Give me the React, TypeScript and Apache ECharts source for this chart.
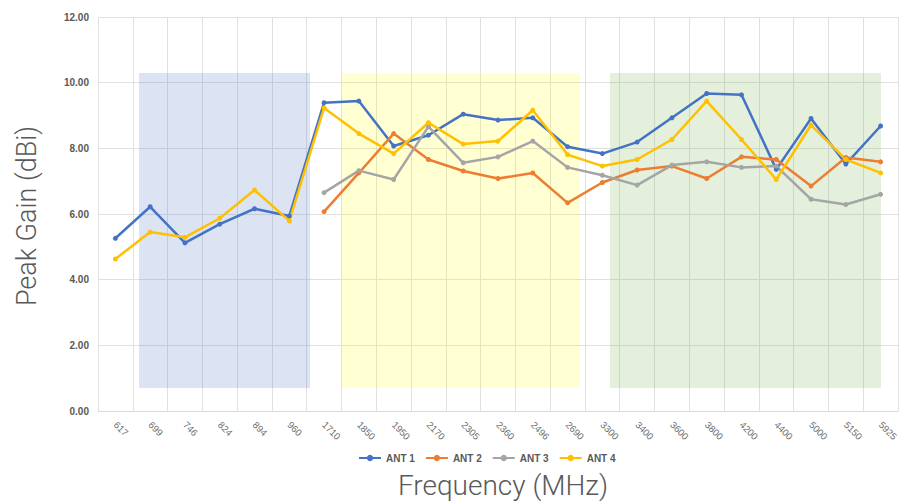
import React, { useEffect, useRef } from "react";
import * as echarts from "echarts";

const categories = ["617", "699", "746", "824", "894", "960", "1710", "1850", "1950", "2170", "2305", "2360", "2496", "2690", "3300", "3400", "3600", "3800", "4200", "4400", "5000", "5150", "5925"];
const ant1 = [5.26, 6.22, 5.12, 5.69, 6.16, 5.94, 9.39, 9.44, 8.07, 8.40, 9.04, 8.86, 8.93, 8.05, 7.84, 8.19, 8.93, 9.67, 9.63, 7.36, 8.91, 7.52, 8.68];
const ant2 = [null, null, null, null, null, null, 6.07, 7.25, 8.45, 7.66, 7.31, 7.08, 7.25, 6.34, 6.96, 7.34, 7.46, 7.08, 7.74, 7.66, 6.85, 7.72, 7.59];
const ant3 = [null, null, null, null, null, null, 6.65, 7.32, 7.05, 8.66, 7.56, 7.74, 8.22, 7.42, 7.18, 6.88, 7.49, 7.59, 7.42, 7.46, 6.45, 6.29, 6.60];
const ant4 = [4.63, 5.45, 5.29, 5.87, 6.73, 5.79, 9.23, 8.45, 7.84, 8.78, 8.13, 8.22, 9.16, 7.81, 7.46, 7.66, 8.27, 9.44, 8.27, 7.05, 8.71, 7.66, 7.25];
const seriesNames = ["ANT 1", "ANT 2", "ANT 3", "ANT 4"];
const seriesColors = ["#4472C4", "#ED7D31", "#A5A5A5", "#FFC000"];
const yTicks = { min: 0, max: 12, interval: 2 };

export default function App() {
  const ref = useRef<HTMLDivElement>(null);
  useEffect(() => {
    document.body.style.margin = "0";
    const chart = echarts.init(ref.current!, null, { renderer: "svg" });
    const data = [ant1, ant2, ant3, ant4];
    chart.setOption({
      animation: false,
      backgroundColor: "#ffffff",
      grid: { left: 98, right: 8, top: 17, bottom: 90 },
      legend: {
        top: 453,
        left: 358,
        padding: 0,
        itemWidth: 22,
        itemHeight: 8,
        itemGap: 10,
        textStyle: { fontSize: 10, fontWeight: "bold", color: "#595959", fontFamily: "Liberation Sans" },
        data: seriesNames,
      },
      xAxis: {
        type: "category",
        data: categories,
        boundaryGap: true,
        axisLine: { show: true, lineStyle: { color: "#d9d9d9" } },
        axisTick: { show: false },
        splitLine: { show: true, lineStyle: { color: "#e0e0e0", width: 1 } },
        axisLabel: {
          rotate: -45,
          interval: 0,
          fontSize: 9.5,
          color: "#6a6a6a",
          fontFamily: "Liberation Sans",
          margin: 12,
        },
      },
      yAxis: {
        type: "value",
        min: yTicks.min,
        max: yTicks.max,
        interval: yTicks.interval,
        axisLine: { show: false },
        axisTick: { show: false },
        splitLine: { lineStyle: { color: "#e0e0e0", width: 1 } },
        axisLabel: {
          formatter: (v: number) => v.toFixed(2),
          fontSize: 10,
          color: "#595959",
          fontWeight: "bold",
          fontFamily: "Liberation Sans",
          margin: 9,
        },
      },
      graphic: [
        { type: "rect", z: 1, silent: true, shape: { x: 139, y: 73, width: 171, height: 315 }, style: { fill: "rgba(68,114,196,0.19)" } },
        { type: "rect", z: 1, silent: true, shape: { x: 342, y: 73, width: 238, height: 315 }, style: { fill: "rgba(255,255,0,0.18)" } },
        { type: "rect", z: 1, silent: true, shape: { x: 610, y: 73, width: 271, height: 315 }, style: { fill: "rgba(112,173,71,0.19)" } },
        {
          type: "text",
          x: 27,
          y: 216,
          rotation: Math.PI / 2,
          style: {
            text: "Peak Gain (dBi)",
            fontSize: 27,
            fontFamily: "Roboto",
            fontWeight: 300,
            fill: "#595959",
            align: "center",
            verticalAlign: "middle",
          },
        },
        {
          type: "text",
          x: 503,
          y: 485,
          style: {
            text: "Frequency (MHz)",
            fontSize: 28,
            fontFamily: "Roboto",
            fontWeight: 300,
            fill: "#595959",
            align: "center",
            verticalAlign: "middle",
          },
        },
      ],
      series: seriesNames.map((name, i) => ({
        name,
        type: "line",
        data: data[i],
        connectNulls: false,
        symbol: "circle",
        symbolSize: 5,
        z: 3,
        itemStyle: { color: seriesColors[i] },
        lineStyle: { color: seriesColors[i], width: 2.5 },
      })),
    });
    return () => chart.dispose();
  }, []);
  return <div ref={ref} style={{ width: 906, height: 501 }} />;
}
